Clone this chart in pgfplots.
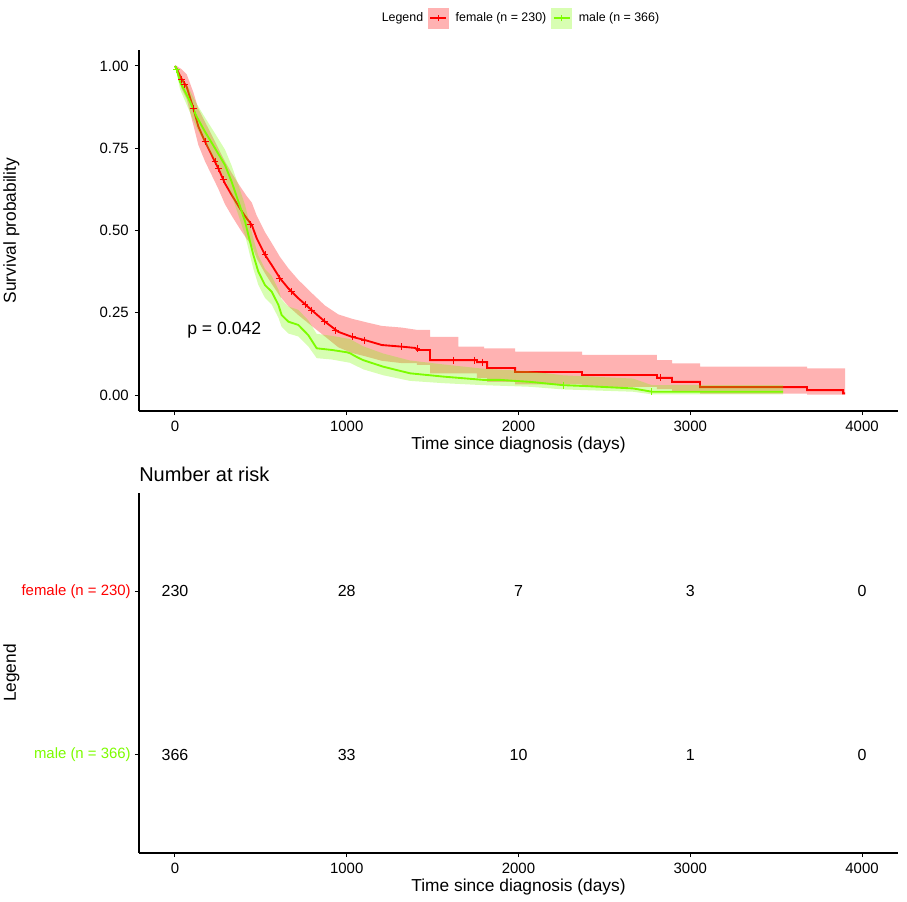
\documentclass[border=0pt]{standalone}
\usepackage{pgfplots}
\usepackage{pgfplotstable}
\pgfplotsset{compat=1.18}
\usepackage{fontspec}
\setmainfont{Liberation Sans}
\definecolor{kmred}{RGB}{255,0,0}
\definecolor{kmgreen}{RGB}{124,252,0}

\pgfplotstableread{
t y label
0 2 230
1000 2 28
2000 2 7
3000 2 3
4000 2 0
0 1 366
1000 1 33
2000 1 10
3000 1 1
4000 1 0
}\risk

\begin{document}
\begin{tikzpicture}
\path[use as bounding box] (0pt,0pt) rectangle (680.25pt,-675.75pt);

\pgfplotsset{
  kmaxis/.style={
    scale only axis,
    width=569.25pt,
    xmin=-209.6, xmax=4209.6,
    axis lines=left,
    axis line style={-, line width=0.9pt, black},
    tick align=outside,
    tick pos=left,
    major tick length=3pt,
    every tick/.style={black, line width=0.75pt},
    xtick={0,1000,2000,3000,4000},
    xticklabels={0,1000,2000,3000,4000},
    /pgf/number format/assume math mode=true,
    ticklabel style={font=\fontsize{11.2}{13}\selectfont, black},
    xticklabel style={inner sep=0pt, yshift=-4.5pt},
    label style={font=\fontsize{13}{15}\selectfont},
    xlabel style={at={(axis description cs:0.5,0)}, anchor=north, inner sep=0pt, yshift=-19.5pt},
    ylabel style={at={(axis description cs:-0.157,0.5)}, anchor=south, inner sep=0pt},
  }
}

% ---------- survival curves ----------
\begin{axis}[kmaxis,
  at={(104.25pt,-308.25pt)}, anchor=south west,
  height=270.75pt,
  ymin=-0.0486, ymax=1.0486,
  ytick={0,0.25,0.5,0.75,1},
  yticklabels={0.00,0.25,0.50,0.75,1.00},
  yticklabel style={inner sep=0pt, xshift=-4.5pt},
  xlabel={Time since diagnosis (days)},
  ylabel={Survival probability},
  legend columns=-1,
  legend style={at={(axis description cs:0.4993,1.0886)}, anchor=center,
    draw=none, fill=none, inner sep=0pt,
    font=\fontsize{9.3}{11}\selectfont,
    nodes={inner xsep=1.5pt, inner ysep=2.5pt},
    /tikz/every odd column/.append style={column sep=3.75pt},
    /tikz/every even column/.append style={column sep=2.25pt}},
]
\addlegendimage{empty legend}
\addlegendentry{Legend}
\addlegendimage{legend image code/.code={
  \fill[kmred!30] (0pt,-7.5pt) rectangle (15pt,7.5pt);
  \draw[kmred, line width=1.4pt] (1.5pt,0pt) -- (13.5pt,0pt);
  \draw[kmred, line width=0.7pt] (7.5pt,-2.6pt) -- (7.5pt,2.6pt);}}
\addlegendentry{female (n = 230)}
\addlegendimage{legend image code/.code={
  \fill[kmgreen!30] (0pt,-7.5pt) rectangle (15pt,7.5pt);
  \draw[kmgreen, line width=1.4pt] (1.5pt,0pt) -- (13.5pt,0pt);
  \draw[kmgreen, line width=0.7pt] (7.5pt,-2.6pt) -- (7.5pt,2.6pt);}}
\addlegendentry{male (n = 366)}

% female confidence band: upper bound forward, lower bound backward
\addplot[fill=kmred, fill opacity=0.3, draw=none, forget plot] coordinates {
(0,1.000) (10,1.000) (39,0.990) (68,0.975) (107,0.920) (136,0.870) (175,0.830)
(214,0.790) (252,0.750) (291,0.710) (330,0.675) (378,0.635) (417,0.605) (447,0.585)
(476,0.545) (524,0.495) (563,0.462) (611,0.420) (660,0.385) (718,0.350) (796,0.310)
(873,0.272) (951,0.245) (1029,0.232) (1106,0.222) (1204,0.210) (1320,0.205)
(1409,0.198) (1485,0.198) (1485,0.177) (1650,0.177) (1650,0.147) (1800,0.147)
(1800,0.142) (1980,0.142) (1980,0.132) (2370,0.132) (2370,0.122) (2806,0.122)
(2806,0.106) (2894,0.106) (2894,0.096) (3057,0.096) (3057,0.086) (3680,0.086)
(3680,0.081) (3901,0.081)
(3901,0.001) (3680,0.001) (3680,0.004) (3057,0.004) (3057,0.010) (2894,0.010)
(2894,0.018) (2806,0.018) (2806,0.025) (2370,0.025) (2370,0.032) (1980,0.032)
(1980,0.040) (1817,0.040) (1817,0.052) (1758,0.052) (1758,0.066) (1485,0.066)
(1485,0.092) (1409,0.092) (1409,0.097) (1320,0.097) (1204,0.104) (1106,0.118)
(1029,0.128) (951,0.145) (873,0.178) (796,0.210) (718,0.243) (660,0.270)
(611,0.300) (563,0.338) (524,0.370) (476,0.415) (447,0.455) (417,0.475)
(378,0.505) (330,0.545) (291,0.580) (252,0.627) (214,0.668) (175,0.710)
(136,0.760) (107,0.820) (68,0.900) (39,0.930) (10,0.980) (0,1.000)
};
% female survival curve
\addplot[kmred, line width=1.4pt, forget plot] coordinates {
(0,1.000) (10,0.991) (39,0.960) (68,0.937) (107,0.871) (136,0.816) (175,0.770)
(214,0.729) (252,0.689) (291,0.643) (330,0.608) (378,0.567) (417,0.537) (447,0.517)
(476,0.476) (524,0.426) (563,0.395) (611,0.355) (660,0.324) (718,0.294) (796,0.258)
(873,0.223) (951,0.192) (1029,0.177) (1106,0.167) (1204,0.152) (1320,0.147)
(1400,0.143) (1409,0.137) (1485,0.137) (1485,0.106) (1758,0.106) (1758,0.100)
(1817,0.100) (1817,0.082) (1980,0.082) (1980,0.070) (2370,0.070) (2370,0.061)
(2806,0.061) (2806,0.052) (2894,0.052) (2894,0.040) (3057,0.040) (3057,0.024)
(3680,0.024) (3680,0.015) (3890,0.015) (3890,0.005) (3901,0.005)
};

% male confidence band
\addplot[fill=kmgreen, fill opacity=0.3, draw=none, forget plot] coordinates {
(0,1.000) (10,1.000) (29,0.975) (78,0.935) (126,0.885) (175,0.843) (233,0.795)
(291,0.746) (330,0.697) (369,0.638) (408,0.577) (437,0.516) (456,0.476) (485,0.424)
(524,0.383) (563,0.362) (602,0.321) (621,0.290) (660,0.269) (718,0.259) (776,0.227)
(825,0.186) (912,0.180) (1019,0.170) (1096,0.148) (1213,0.126) (1368,0.105)
(1562,0.093) (1795,0.080) (2067,0.072) (2259,0.060) (2667,0.050) (2777,0.030)
(3540,0.030)
(3540,0.002) (2777,0.002) (2667,0.010) (2259,0.017) (2067,0.025) (1795,0.030)
(1562,0.036) (1368,0.043) (1213,0.060) (1096,0.078) (1019,0.098) (912,0.108)
(825,0.112) (776,0.148) (718,0.178) (660,0.187) (621,0.207) (602,0.235)
(563,0.275) (524,0.295) (485,0.335) (456,0.384) (437,0.424) (408,0.485)
(369,0.547) (330,0.607) (291,0.659) (233,0.713) (175,0.765) (126,0.812)
(78,0.870) (29,0.930) (10,0.980) (0,1.000)
};
% male survival curve
\addplot[kmgreen, line width=1.4pt, forget plot] coordinates {
(0,1.000) (10,0.990) (29,0.952) (78,0.902) (126,0.846) (175,0.800) (233,0.750)
(291,0.699) (330,0.648) (369,0.588) (408,0.527) (437,0.466) (456,0.426) (485,0.375)
(524,0.334) (563,0.314) (602,0.274) (621,0.243) (660,0.223) (718,0.213) (776,0.182)
(825,0.142) (912,0.137) (1000,0.130) (1019,0.127) (1060,0.115) (1096,0.106)
(1213,0.086) (1368,0.066) (1562,0.056) (1795,0.046) (1892,0.046) (2067,0.040)
(2259,0.030) (2400,0.027) (2667,0.020) (2777,0.010) (3540,0.010)
};

\addplot[kmred, only marks, mark=+, mark size=2.6pt, line width=0.7pt, forget plot] table {
39 0.960
58 0.945
107 0.871
175 0.770
233 0.710
252 0.689
281 0.654
437 0.517
524 0.426
611 0.355
679 0.314
757 0.274
796 0.258
873 0.223
932 0.196
1031 0.177
1106 0.167
1320 0.147
1409 0.140
1619 0.106
1745 0.106
1790 0.100
2824 0.052
};
\addplot[kmgreen, only marks, mark=+, mark size=2.6pt, line width=0.7pt, forget plot] table {
10 0.990
2259 0.030
2777 0.010
};

\node[anchor=west, inner sep=0pt, font=\fontsize{13.2}{15}\selectfont] at (axis cs:70,0.198) {p = 0.042};
\end{axis}

% ---------- risk table ----------
\begin{axis}[kmaxis,
  at={(104.25pt,-639.75pt)}, anchor=south west,
  height=270pt,
  ymin=0.4, ymax=2.6,
  ytick={1,2},
  yticklabels={\textcolor{kmgreen}{male (n = 366)},\textcolor{kmred}{female (n = 230)}},
  yticklabel style={inner sep=0pt, xshift=-3pt},
  xlabel={Time since diagnosis (days)},
  ylabel={Legend},
  title={Number at risk},
  title style={at={(axis description cs:0,1)}, anchor=base west, inner sep=0pt, yshift=2.75pt,
    font=\fontsize{15}{17}\selectfont},
]
\addplot[draw=none, mark=none, nodes near coords, point meta=explicit symbolic,
  nodes near coords style={anchor=center, inner sep=0pt, font=\fontsize{12}{14}\selectfont, black}]
  table[x=t, y=y, meta=label]{\risk};
\end{axis}
\end{tikzpicture}
\end{document}
